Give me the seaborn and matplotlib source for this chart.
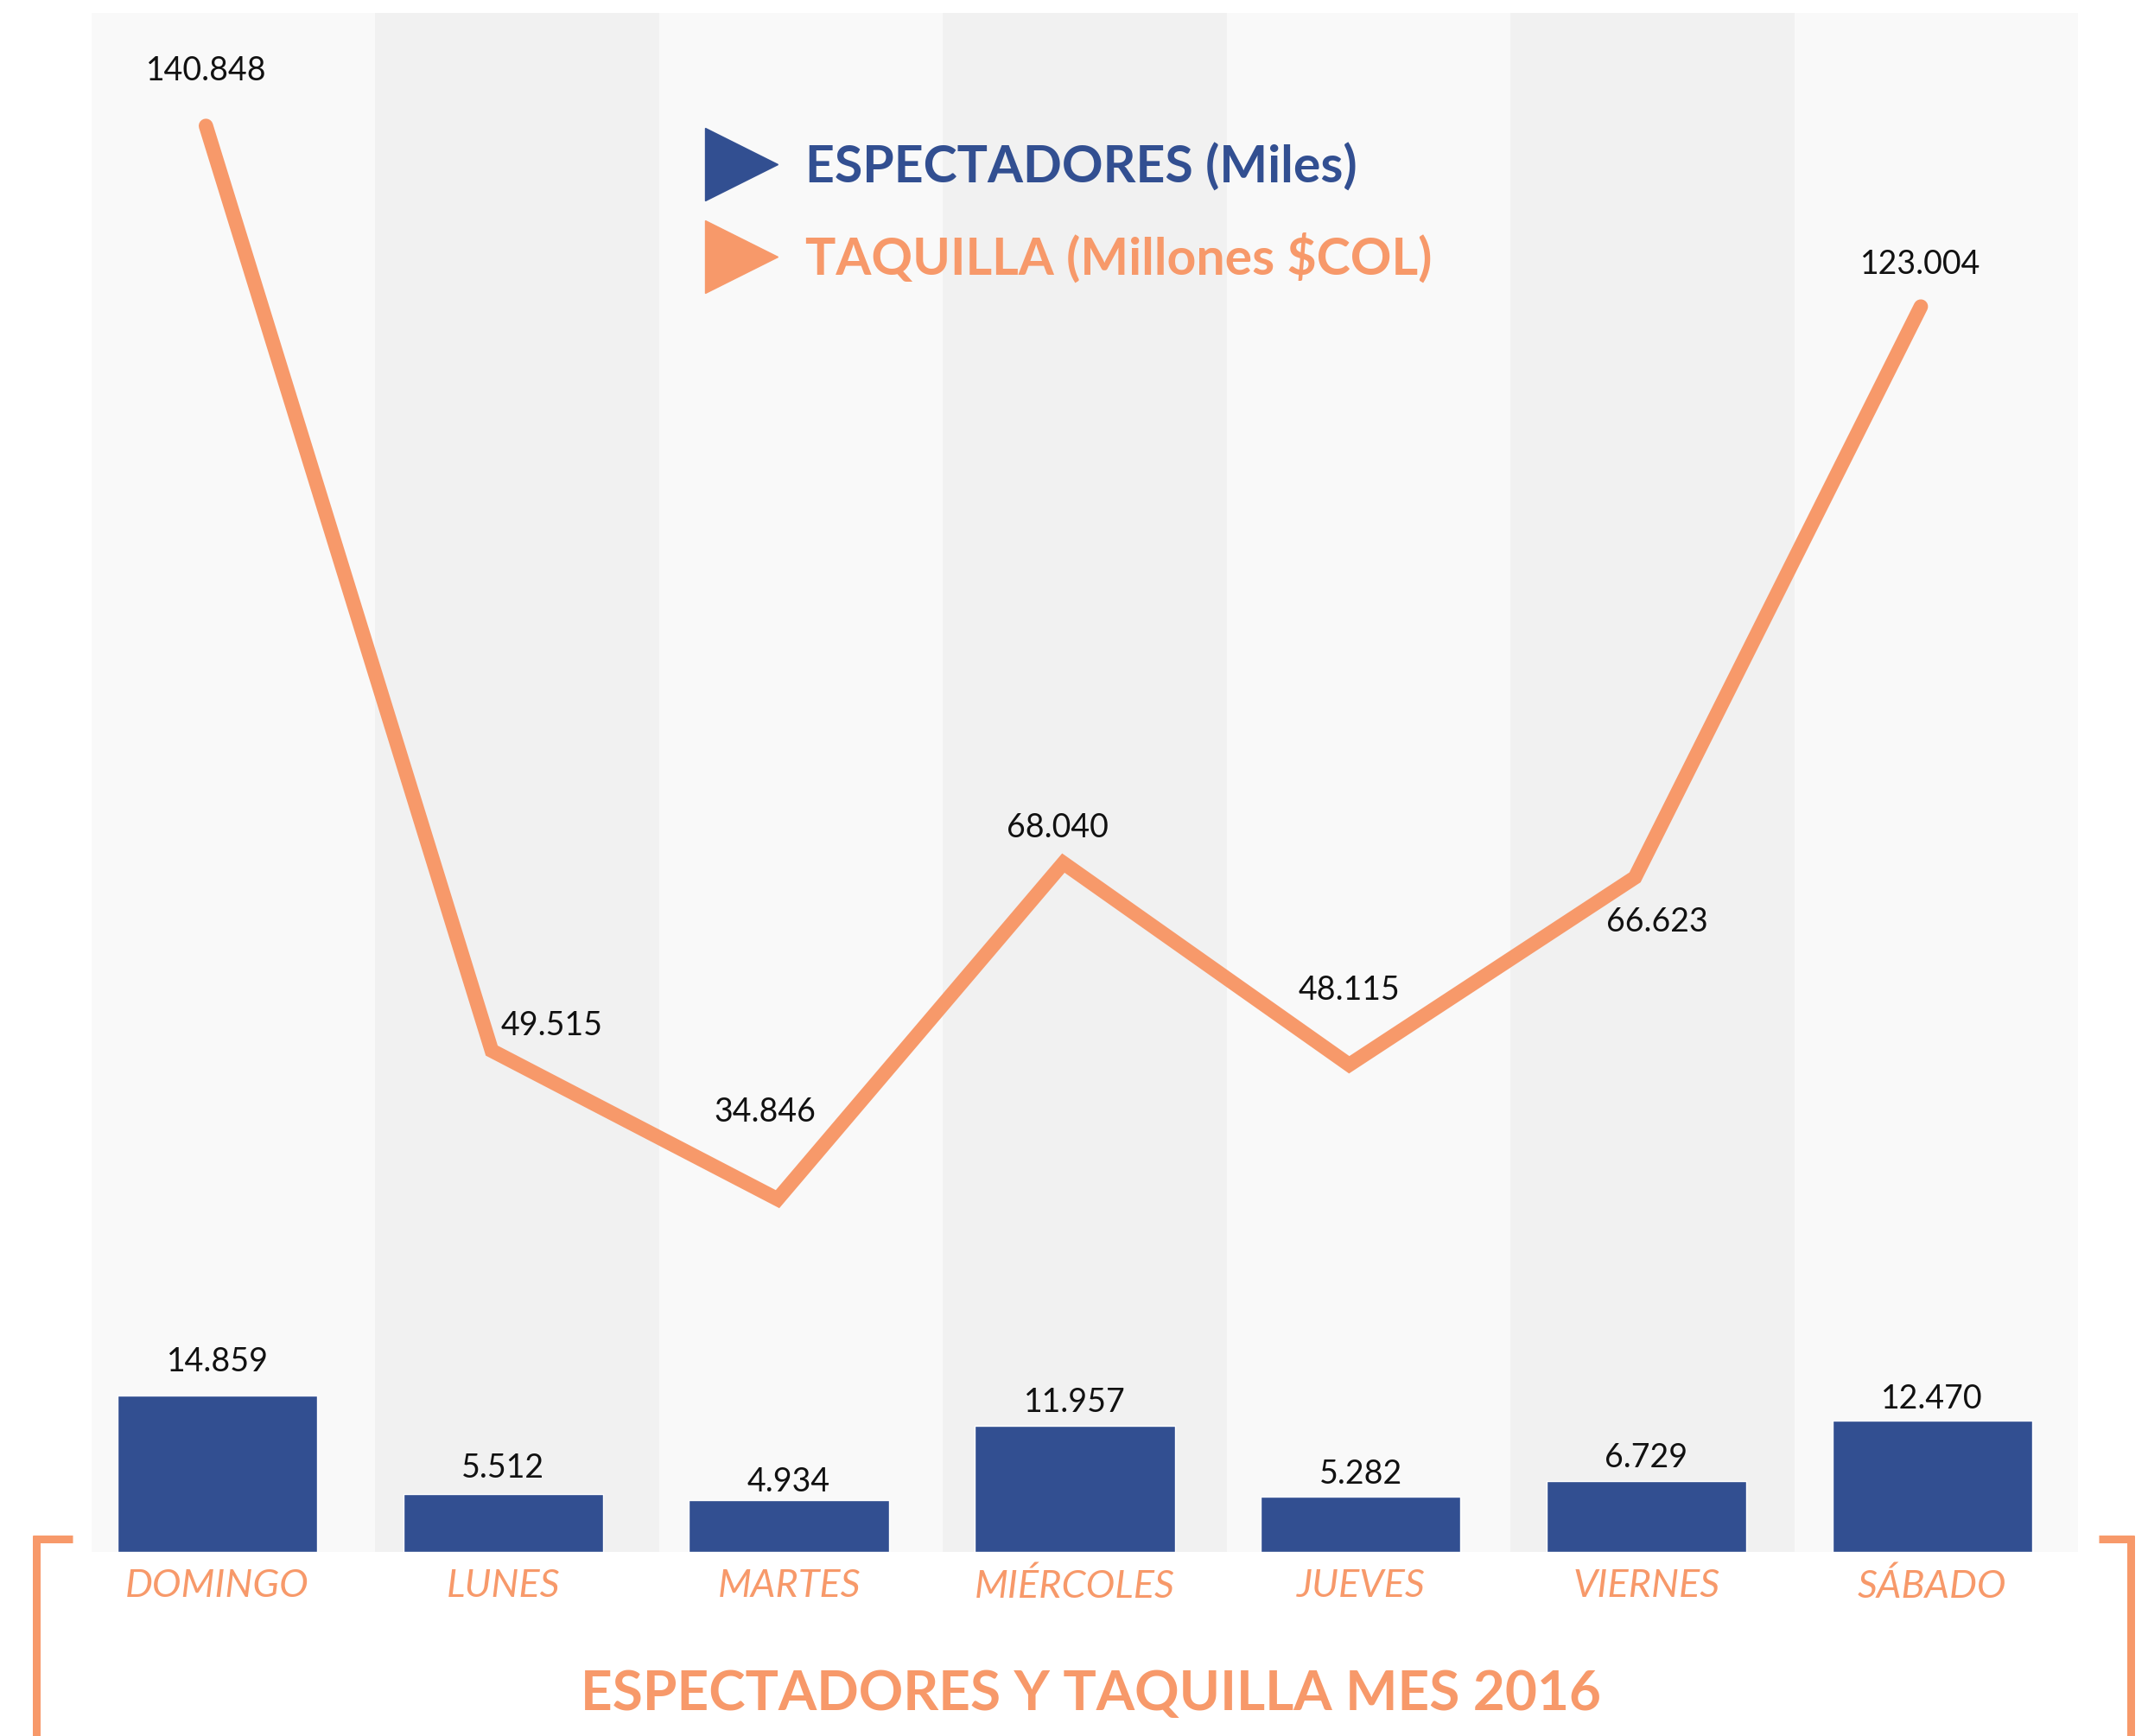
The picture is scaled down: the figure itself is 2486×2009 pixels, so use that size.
import numpy as np
import matplotlib
matplotlib.use("Agg")
import matplotlib.pyplot as plt
from matplotlib.lines import Line2D
from matplotlib.patches import Rectangle
import seaborn as sns

# --- data ---
dias = ["DOMINGO", "LUNES", "MARTES", "MIÉRCOLES", "JUEVES", "VIERNES", "SÁBADO"]
espectadores = [14.859, 5.512, 4.934, 11.957, 5.282, 6.729, 12.470]   # miles
taquilla = [140.848, 49.515, 34.846, 68.040, 48.115, 66.623, 123.004]  # millones $COL

legend_labels = ["ESPECTADORES (Miles)", "TAQUILLA (Millones $COL)"]
titulo = "ESPECTADORES Y TAQUILLA MES 2016"

# --- style ---
BLUE = "#324F91"
ORANGE = "#F7996A"
BAND_LIGHT = "#F9F9F9"
BAND_DARK = "#F1F1F1"
W, H = 2486, 2009
PX = 72 / 100      # pixels -> points at dpi 100
XLIM = (-0.44, 6.51)
LINE_SHIFT = -0.04  # line sits slightly left of the bars

# label offsets in pixels (dx, dy up)
bar_lbl_off = [39, 30, 21, 27, 26, 27, 25]
line_lbl_off = [(0, 64), (70, 29), (-15, 101), (-7, 41), (0, 86), (26, -52), (0, 49)]

sns.set_theme(style="white")
plt.rcParams["font.family"] = ["Lato", "DejaVu Sans"]

fig = plt.figure(figsize=(W / 100, H / 100), dpi=100)
fig.patch.set_facecolor("white")
ax = fig.add_axes([106 / W, 1 - 1796 / H, (2405 - 106) / W, (1796 - 15) / H])

# alternating background bands (7 equal columns across the axes)
n = len(dias)
for i in range(n):
    ax.add_patch(Rectangle((i / n, 0), 1 / n, 1, transform=ax.transAxes, lw=0, zorder=0,
                           facecolor=BAND_LIGHT if i % 2 == 0 else BAND_DARK))

sns.barplot(x=dias, y=espectadores, ax=ax, color=BLUE, width=0.7, saturation=1, zorder=2)
ax.set_xlim(*XLIM)
ax.set_ylim(0, 146)
ax.set_xlabel("")
ax.set_ylabel("")
ax.set_yticks([])
ax.tick_params(axis="x", length=0, pad=14)
for lbl in ax.get_xticklabels():
    lbl.set_fontsize(32.5)
    lbl.set_fontstyle("italic")
    lbl.set_fontweight("normal")
    lbl.set_color(ORANGE)
for s in ax.spines.values():
    s.set_visible(False)

for i, v in enumerate(espectadores):
    ax.annotate(f"{v:.3f}", (i, v), xytext=(0, bar_lbl_off[i] * PX), textcoords="offset points",
                ha="center", va="center", fontsize=27, color="#111111")

# line on twin axis
ax2 = ax.twinx()
xs = np.arange(n) + LINE_SHIFT
sns.lineplot(x=xs, y=taquilla, ax=ax2, color=ORANGE, lw=12,
             solid_capstyle="round", solid_joinstyle="miter")
ax2.set_xlim(*XLIM)
ax2.set_ylim(0, 152)
ax2.set_yticks([])
ax2.set_ylabel("")
for s in ax2.spines.values():
    s.set_visible(False)

for i, v in enumerate(taquilla):
    dx, dy = line_lbl_off[i]
    ax2.annotate(f"{v:.3f}", (xs[i], v), xytext=(dx * PX, dy * PX), textcoords="offset points",
                 ha="center", va="center", fontsize=27, color="#111111")

# legend
handles = [Line2D([], [], marker=">", linestyle="None", color=c, markersize=60)
           for c in (BLUE, ORANGE)]
leg = ax2.legend(handles, legend_labels, loc="upper left",
                 bbox_to_anchor=(814 / W, 1 - 165 / H), bbox_transform=fig.transFigure,
                 frameon=False, prop={"size": 42.5, "weight": "bold"},
                 handlelength=1.5, handletextpad=0.5, labelspacing=0.82,
                 borderpad=0, borderaxespad=0)
for t, c in zip(leg.get_texts(), (BLUE, ORANGE)):
    t.set_color(c)

# bracket decoration and title
lw_br = 9 * PX
fig.add_artist(Line2D([42 / W, 42 / W], [0, 1 - 1777 / H], color=ORANGE, lw=lw_br, solid_capstyle="butt"))
fig.add_artist(Line2D([38 / W, 84 / W], [1 - 1781 / H, 1 - 1781 / H], color=ORANGE, lw=lw_br, solid_capstyle="butt"))
fig.add_artist(Line2D([2466 / W, 2466 / W], [0, 1 - 1777 / H], color=ORANGE, lw=lw_br, solid_capstyle="butt"))
fig.add_artist(Line2D([2429 / W, 2470 / W], [1 - 1781 / H, 1 - 1781 / H], color=ORANGE, lw=lw_br, solid_capstyle="butt"))

fig.text(1262 / W, 1 - 1961 / H, titulo, ha="center", va="center",
         fontsize=46, fontweight="bold", color=ORANGE)

fig.savefig("out.png", dpi=100, facecolor="white")
